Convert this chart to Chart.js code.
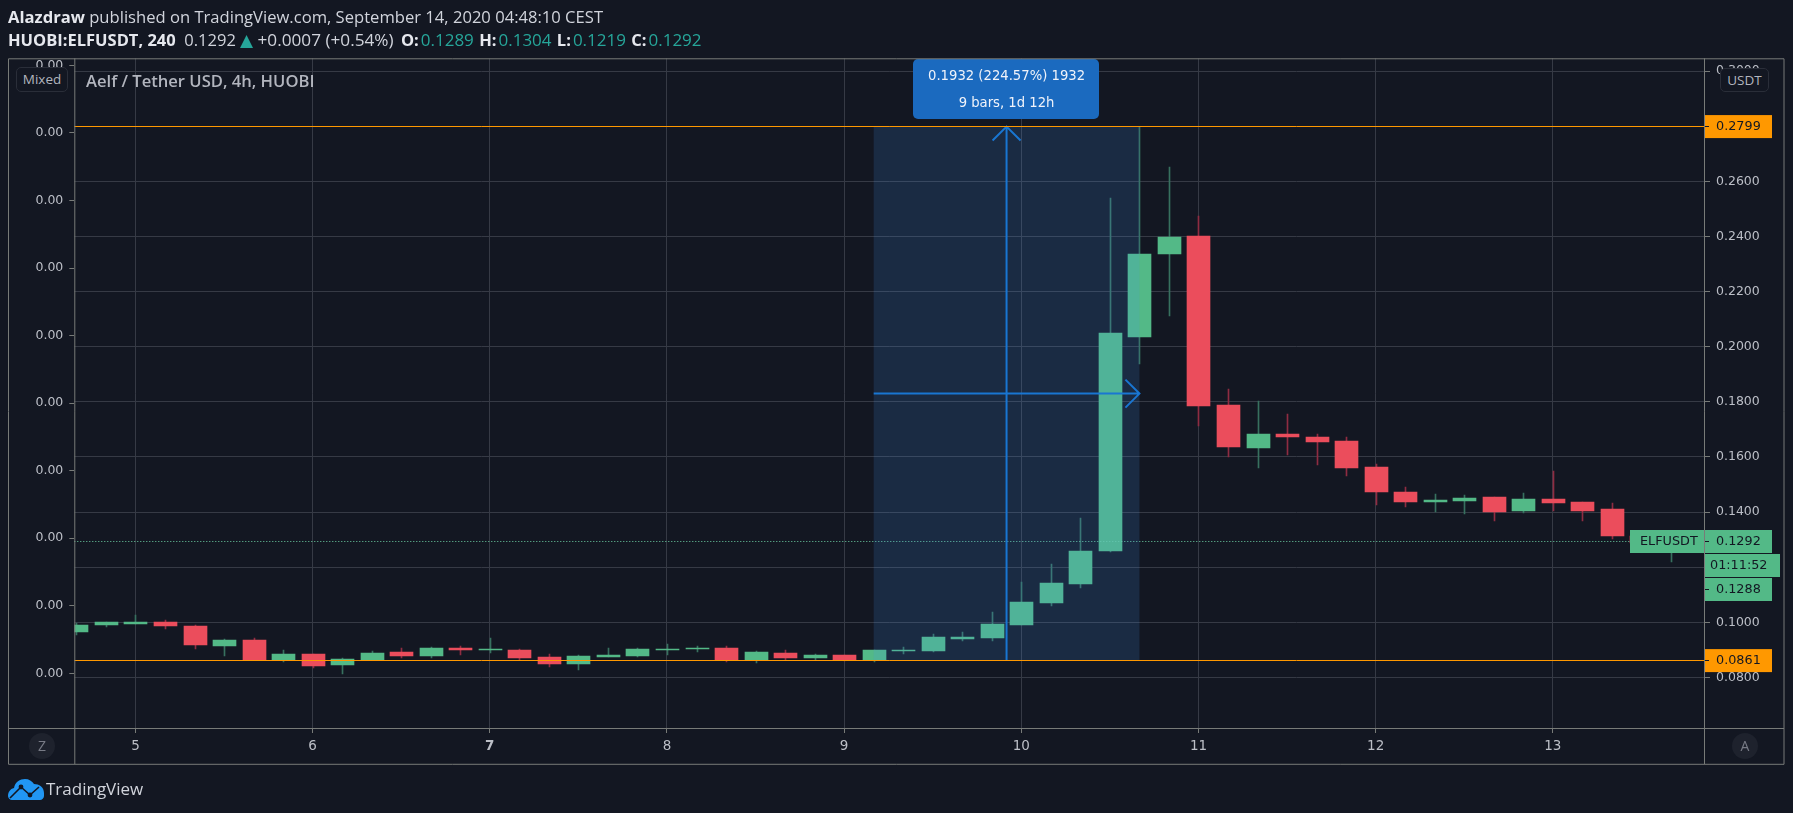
<!DOCTYPE html>
<html>
<head>
<meta charset="utf-8">
<title>HUOBI:ELFUSDT, 240</title>
<script src="https://cdn.jsdelivr.net/npm/chart.js@4"></script>
<style>
  html, body { margin: 0; padding: 0; background: #131722; overflow: hidden; }
  #wrap { position: relative; width: 1793px; height: 813px; font-family: "Open Sans", sans-serif; color: #d1d4dc; }
  canvas { position: absolute; left: 0; top: 0; }
  .line { position: absolute; left: 8px; font-size: 16.5px; white-space: nowrap; line-height: 20px; }
  .line b { font-weight: 700; color: #e6e8ee; }
  .line b.ohlc { margin-left: 1px; }
  .teal { color: #26a69a; font-size: 17px; margin-left: 2px; }
  .tri { color: #26a69a; font-family: "DejaVu Sans"; font-size: 17px; }
  .badge { position: absolute; box-sizing: border-box; background: #131722; border: 1px solid #2a2e39; border-radius: 5px;
           color: #b2b5be; font-size: 13.5px; text-align: center; }
  .round { position: absolute; width: 26px; height: 26px; border-radius: 50%; background: #1e222d; color: #787b86;
           font-size: 14px; line-height: 26px; text-align: center; }
</style>
</head>
<body>
<div id="wrap">
  <canvas id="priceChart" width="1793" height="813"></canvas>

  <div class="line" style="top:7px;font-size:16.6px"><b>Alazdraw</b> published on TradingView.com, September 14, 2020 04:48:10 CEST</div>
  <div class="line" style="top:30px"><b>HUOBI:ELFUSDT, 240</b>&nbsp; 0.1292 <span class="tri">▲</span> <span style="font-size:17.2px">+0.0007 (+0.54%)</span> <b class="ohlc" style="margin-left:3px">O:</b><span class="teal">0.1289</span> <b class="ohlc">H:</b><span class="teal">0.1304</span> <b class="ohlc">L:</b><span class="teal">0.1219</span> <b class="ohlc">C:</b><span class="teal">0.1292</span></div>

  <div class="badge" style="left:16px;top:67px;width:52px;height:25px;line-height:23px">Mixed</div>
  <div class="badge" style="left:1720px;top:68px;width:49px;height:24px;line-height:22px">USDT</div>
  <div style="position:absolute;left:86px;top:69px;font-size:16.6px;font-weight:600;color:#b2b5be;white-space:nowrap">Aelf / Tether USD, 4h, HUOBI</div>

  <div class="round" style="left:29px;top:733px">Z</div>
  <div class="round" style="left:1732px;top:733px">A</div>

  <!-- logo -->
  <svg style="position:absolute;left:8px;top:778px" width="36" height="22" viewBox="0 0 36 22">
    <path fill="#2196f3" d="M0 18c0-4 2-7 6-8 1-6 6-9 11-9 4 0 7 2 9 5 5 0 10 3 10 9v3c0 2-2 4-4 4H4c-2 0-4-2-4-4z"/>
    <path fill="none" stroke="#131722" stroke-width="1.6" d="M2 20l11-11 9 8 9-8"/>
    <circle cx="13" cy="9" r="2.4" fill="#131722"/><circle cx="22" cy="17" r="2.4" fill="#131722"/>
  </svg>
  <div style="position:absolute;left:46px;top:777px;font-size:17px;line-height:24px;color:#d1d4dc">TradingView</div>
</div>

<script>
/* 4h candles, 4 Sep 16:00 onward */
const open  = [0.0965,0.0990,0.0994,0.1001,0.0987,0.0914,0.0936,0.0862,0.0885,0.0845,0.0862,0.0892,0.0878,0.0907,0.0899,0.0899,0.0874,0.0848,0.0874,0.0878,0.0899,0.0903,0.0907,0.0863,0.0888,0.0870,0.0881,0.0862,0.0896,0.0896,0.0939,0.0943,0.0990,0.1070,0.1139,0.1259,0.2035,0.2337,0.2402,0.1789,0.1633,0.1683,0.1672,0.1658,0.1564,0.1473,0.1437,0.1440,0.1455,0.1404,0.1447,0.1437,0.1411,0.1313,0.1289];
const high  = [0.0999,0.1001,0.1027,0.1008,0.0990,0.0939,0.0943,0.0899,0.0885,0.0870,0.0896,0.0907,0.0910,0.0914,0.0943,0.0903,0.0885,0.0881,0.0907,0.0907,0.0921,0.0914,0.0914,0.0896,0.0899,0.0885,0.0881,0.0899,0.0910,0.0958,0.0965,0.1038,0.1147,0.1212,0.1379,0.2540,0.2799,0.2652,0.2474,0.1847,0.1802,0.1756,0.1683,0.1672,0.1574,0.1491,0.1466,0.1462,0.1455,0.1469,0.1549,0.1437,0.1433,0.1320,0.1304];
const low   = [0.0954,0.0983,0.0994,0.0976,0.0903,0.0878,0.0862,0.0856,0.0833,0.0812,0.0862,0.0870,0.0870,0.0881,0.0888,0.0863,0.0838,0.0827,0.0874,0.0874,0.0881,0.0892,0.0856,0.0852,0.0863,0.0863,0.0858,0.0856,0.0885,0.0892,0.0932,0.0932,0.0990,0.1059,0.1124,0.1255,0.1937,0.2113,0.1712,0.1599,0.1560,0.1607,0.1571,0.1531,0.1426,0.1418,0.1400,0.1393,0.1368,0.1397,0.1404,0.1368,0.1302,0.1260,0.1219];
const close = [0.0990,0.1001,0.1001,0.0987,0.0918,0.0936,0.0862,0.0885,0.0841,0.0867,0.0888,0.0878,0.0907,0.0899,0.0903,0.0870,0.0848,0.0878,0.0881,0.0903,0.0903,0.0907,0.0862,0.0892,0.0870,0.0881,0.0862,0.0899,0.0899,0.0947,0.0947,0.0994,0.1074,0.1143,0.1259,0.2050,0.2337,0.2398,0.1785,0.1636,0.1683,0.1672,0.1654,0.1560,0.1473,0.1437,0.1444,0.1451,0.1400,0.1447,0.1433,0.1404,0.1313,0.1289,0.1292];

const dayTicks = [2,8,14,20,26,32,38,44,50];
const dayLabels = ['5','6','7','8','9','10','11','12','13'];
const priceTicks = [0.08,0.10,0.12,0.14,0.16,0.18,0.20,0.22,0.24,0.26,0.28,0.30];
const leftTicks = [0,0.0005,0.001,0.0015,0.002,0.0025,0.003,0.0035,0.004,0.0045];

const measureBars = [27,36];
const measureArrowBar = 31.5;
const measurePrices = [0.0861,0.2799];
const measureLabels = ['0.1932 (224.57%) 1932','9 bars, 1d 12h'];
const lastPrice = 0.1292;

const UP = '#53b987', DOWN = '#eb4d5c', UP_WICK = '#37705f', DOWN_WICK = '#8f2c42';
const GRID = '#363a45', FRAME = '#787b78', ORANGE = '#ff9800', TEXT = '#bcbfc7', BLUE = '#1976d2', BG = '#131722';
const TICK_FONT = {family:'"DejaVu Sans"', size:12.5};

const isUp = open.map((o,i) => close[i] >= o);
const bodies = open.map((o,i) => ({x:i, y:[o,close[i]]}));
const wicks = open.map((o,i) => ({x:i, y:[low[i],high[i]]}));

function box(ctx, x, y, w, h, fill, label, textX, tick){
  ctx.fillStyle = fill;
  ctx.fillRect(x, y - h/2, w, h);
  ctx.fillStyle = BG;
  ctx.font = '12.8px "DejaVu Sans"';
  ctx.textAlign = 'left';
  ctx.textBaseline = 'middle';
  ctx.fillText(label, textX, y + 0.5);
  if(tick) ctx.fillRect(tick, Math.floor(y), 5, 1);
}

// snap candles to whole pixels so wicks stay one pixel wide
const snapPlugin = {
  id:'snap',
  afterDatasetsUpdate(chart){
    chart.data.datasets.forEach((ds,i) => {
      chart.getDatasetMeta(i).data.forEach(el => {
        el.x = Math.round(el.x) + 0.5;
        el.y = Math.round(el.y);
        el.base = Math.round(el.base);
      });
    });
  }
};

// measure tool, price lines and the labels on the axis
const overlayPlugin = {
  id:'overlay',
  afterDatasetsDraw(chart){
    const {ctx, chartArea:a, scales} = chart;
    const X = scales.x, Y = scales.y;
    const x0 = X.getPixelForValue(measureBars[0]), x1 = X.getPixelForValue(measureBars[1]);
    const yLo = Y.getPixelForValue(measurePrices[0]), yHi = Y.getPixelForValue(measurePrices[1]);
    const ax = X.getPixelForValue(measureArrowBar), ay = (yLo + yHi)/2;
    const yLast = Math.floor(Y.getPixelForValue(lastPrice)) + 0.5;

    ctx.save();
    // dotted last price line
    ctx.strokeStyle = '#6fd3a5';
    ctx.lineWidth = 1;
    ctx.setLineDash([1,2]);
    ctx.beginPath(); ctx.moveTo(a.left, yLast); ctx.lineTo(a.right, yLast); ctx.stroke();
    ctx.setLineDash([]);

    ctx.fillStyle = 'rgba(70,150,243,0.16)';
    ctx.fillRect(x0, yHi, x1 - x0, yLo - yHi);

    // arrows
    ctx.strokeStyle = BLUE;
    ctx.lineWidth = 2;
    ctx.beginPath();
    ctx.moveTo(ax, yLo); ctx.lineTo(ax, yHi);
    ctx.moveTo(ax - 14, yHi + 14); ctx.lineTo(ax, yHi); ctx.lineTo(ax + 14, yHi + 14);
    ctx.moveTo(x0, ay); ctx.lineTo(x1, ay);
    ctx.moveTo(x1 - 14, ay - 14); ctx.lineTo(x1, ay); ctx.lineTo(x1 - 14, ay + 14);
    ctx.stroke();

    // price lines
    ctx.strokeStyle = ORANGE;
    ctx.lineWidth = 1;
    measurePrices.forEach(p => {
      const y = Math.floor(Y.getPixelForValue(p)) + 0.5;
      ctx.beginPath(); ctx.moveTo(a.left, y); ctx.lineTo(a.right, y); ctx.stroke();
    });

    // bubble
    ctx.fillStyle = '#1b6abf';
    ctx.beginPath(); ctx.roundRect(913, 59, 186, 60, 5); ctx.fill();
    ctx.fillStyle = '#f0f3fa';
    ctx.font = '13.2px "DejaVu Sans"';
    ctx.textAlign = 'center';
    ctx.textBaseline = 'middle';
    ctx.fillText(measureLabels[0], ax, 76.5);
    ctx.fillText(measureLabels[1], ax, 103.5);

    // axis labels
    measurePrices.forEach(p => {
      box(ctx, a.right, Y.getPixelForValue(p), 68, 23, ORANGE, p.toFixed(4), a.right + 12, a.right);
    });
    box(ctx, a.right - 74, yLast, 74, 23, UP, 'ELFUSDT', a.right - 64);
    box(ctx, a.right, yLast, 68, 23, UP, lastPrice.toFixed(4), a.right + 12, a.right);
    box(ctx, a.right + 1, yLast + 24, 75, 23, UP, '01:11:52', a.right + 6);
    box(ctx, a.right, yLast + 48, 68, 23, UP, '0.1288', a.right + 12, a.right);
    ctx.restore();
  },
  afterDraw(chart){
    const {ctx, chartArea:a, width} = chart;
    ctx.save();
    ctx.strokeStyle = FRAME;
    ctx.lineWidth = 1;
    ctx.beginPath();
    ctx.rect(8.5, a.top + 0.5, width - 17.5, 705.5);
    ctx.moveTo(a.left + 0.5, a.top); ctx.lineTo(a.left + 0.5, 764);
    ctx.moveTo(a.right + 0.5, a.top); ctx.lineTo(a.right + 0.5, 764);
    ctx.moveTo(8, a.bottom + 0.5); ctx.lineTo(width - 9, a.bottom + 0.5);
    ctx.stroke();
    ctx.restore();
  }
};

new Chart(document.getElementById('priceChart').getContext('2d'), {
  type:'bar',
  data:{
    datasets:[
      // lower order is drawn on top, bodies must cover the wicks
      {label:'wick', data:wicks, backgroundColor:isUp.map(u => u ? UP_WICK : DOWN_WICK), barThickness:1, grouped:false, order:2},
      {label:'body', data:bodies, backgroundColor:isUp.map(u => u ? UP : DOWN), barThickness:23, grouped:false, order:1}
    ]
  },
  options:{
    responsive:false,
    animation:false,
    events:[],
    layout:{padding:{left:8.3, right:8.7, top:58.3, bottom:49}},
    plugins:{legend:{display:false}, tooltip:{enabled:false}},
    scales:{
      x:{
        type:'linear', offset:false, min:-0.071, max:55.119,
        grid:{color:GRID, offset:false, tickColor:FRAME, tickLength:5},
        border:{display:false},
        afterBuildTicks(s){ s.ticks = dayTicks.map(v => ({value:v})); },
        afterFit(s){ s.height = 36; },
        ticks:{
          color:TEXT, autoSkip:false, maxRotation:0, padding:5,
          font:ctx => ({family:'"DejaVu Sans"', size:13.5, weight:ctx.tick && ctx.tick.value === 14 ? 'bold' : 'normal'}),
          callback:v => dayLabels[dayTicks.indexOf(v)]
        }
      },
      y:{
        type:'linear', position:'right', min:0.06164, max:0.30468,
        grid:{color:GRID, tickColor:FRAME, tickLength:6},
        border:{display:false},
        afterBuildTicks(s){ s.ticks = priceTicks.map(v => ({value:v})); },
        afterFit(s){ s.width = 80.3; },
        ticks:{color:TEXT, font:TICK_FONT, padding:6, callback:v => v.toFixed(4)}
      },
      yLeft:{
        type:'linear', position:'left', min:-0.000405, max:0.004553,
        grid:{drawOnChartArea:false, tickColor:FRAME, tickLength:5},
        border:{display:false},
        afterBuildTicks(s){ s.ticks = leftTicks.map(v => ({value:v})); },
        afterFit(s){ s.width = 66; },
        ticks:{color:TEXT, font:TICK_FONT, padding:6, callback:v => v.toFixed(2)}
      }
    }
  },
  plugins:[snapPlugin, overlayPlugin]
});
</script>
</body>
</html>
